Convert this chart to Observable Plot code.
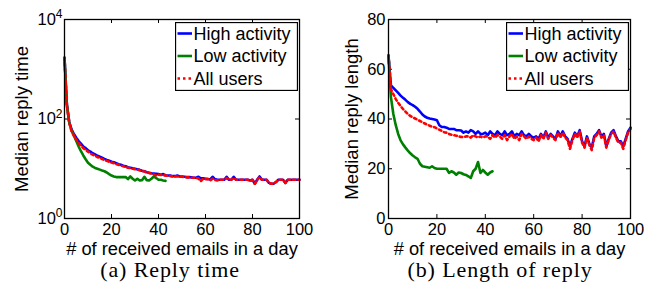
<!DOCTYPE html>
<html>
<head>
<meta charset="utf-8">
<script src="https://cdn.jsdelivr.net/npm/d3@7"></script>
<script src="https://cdn.jsdelivr.net/npm/@observablehq/plot@0.6"></script>
<style>
  body { margin: 0; background: white; }
  #fig { position: relative; width: 662px; height: 284px; background: white; font-family: "Liberation Sans", Arial, sans-serif; }
  .panel { position: absolute; top: 0; }
  .caption { position: absolute; font-family: "Liberation Serif", "Times New Roman", serif; font-size: 22px; letter-spacing: 0.9px; line-height: 19px; height: 19px; white-space: nowrap; transform: translateX(-50%); }
  .legend { position: absolute; }
</style>
</head>
<body>
<div id="fig"></div>
<script>
// ---------- data ----------
const seriesNames = ["High activity", "Low activity", "All users"];
const seriesColors = ["#0000ff", "#008000", "#ff0000"];

const xLabel = "# of received emails in a day";
const xTicks = [0, 20, 40, 60, 80, 100];

// (a) median reply time (log scale), x = 0..100 / 0..43
const timeTicks = [1, 100, 10000];
const timeHigh = [1700, 200, 88, 62, 50, 42, 36, 32, 28, 26, 23.5, 22, 20.5, 19.5, 18.2, 17.4, 16.6, 15.8, 15.1, 14.5,
  13.8, 13.5, 12.9, 12.3, 12, 11.5, 11.2, 10.7, 10.5, 10.2, 10, 9.8, 9.5, 9.1, 8.9, 8.5, 8.3, 8.1, 8.0, 7.9,
  7.8, 7.6, 7.8, 7.4, 7.3, 7.3, 7.1, 7.1, 7.3, 7.0, 7.0, 6.9, 6.8, 6.8, 6.7, 6.6, 6.6, 6.9, 6.4, 6.4,
  6.3, 6.2, 6.1, 6.9, 6.2, 6.0, 6.0, 6.0, 6.0, 6.9, 6.0, 6.0, 6.9, 6.0, 6.0, 6.0, 6.0, 6.0, 6.0, 5.8,
  6.0, 5.0, 6.0, 7.0, 6.0, 6.0, 6.0, 5.2, 5.0, 5.0, 5.4, 6.0, 6.0, 6.0, 5.2, 6.0, 6.0, 6.0, 6.0, 6.0, 6.0];
const timeLow = [1700, 195, 86, 58, 46, 36, 28, 22.5, 18.5, 15.5, 13.2, 12, 11, 10.4, 10, 9.6, 9.2, 8.9, 8.4, 7.8,
  7.3, 7.0, 6.8, 6.8, 6.8, 6.8, 6.8, 6.2, 7.0, 6.3, 5.8, 6.3, 5.8, 5.9, 6.9, 5.9, 5.8, 6.3, 7.0, 6.5,
  6.0, 6.0, 5.8, 5.7];
const timeAll = [1700, 190, 84, 57, 46, 38, 33, 29, 26, 24, 22, 20.5, 19.2, 18.2, 17.2, 16.4, 15.7, 15.0, 14.4, 13.8,
  13.3, 12.9, 12.4, 12, 11.6, 11.2, 10.9, 10.5, 10.3, 10, 9.8, 9.6, 9.3, 9.0, 8.8, 8.5, 8.2, 8.0, 7.7, 7.3,
  7.6, 7.5, 7.4, 7.3, 7.2, 7.1, 7.0, 7.0, 7.0, 6.9, 6.9, 6.8, 6.7, 6.7, 6.6, 6.6, 6.5, 6.4, 5.6, 6.3,
  6.2, 6.2, 5.8, 6.3, 6.0, 5.8, 6.0, 6.0, 6.0, 6.5, 6.0, 6.0, 6.5, 6.0, 6.0, 6.0, 6.0, 6.0, 6.0, 5.8,
  6.0, 5.0, 6.0, 6.8, 6.0, 6.0, 6.0, 5.2, 5.0, 5.0, 5.4, 6.0, 6.0, 6.0, 5.2, 6.0, 6.0, 6.0, 6.0, 6.0, 6.0];

// (b) median reply length (linear)
const lenTicks = [0, 20, 40, 60, 80];
const lenHigh = [65.5, 53.5, 52.5, 51.5, 50.5, 49.4, 48.5, 47.7, 46.8, 46.1, 45.6, 44.9, 44.1, 43, 41.8, 41, 40.5, 40.2, 40, 39.8,
  39.5, 37.5, 36.8, 36.8, 36.5, 36, 36, 36, 35.5, 35.5, 35.4, 34.5, 35, 34.5, 35.5, 35, 34, 35, 34, 34,
  34.5, 33.5, 35, 34, 33.5, 35, 34, 33.5, 35, 33.5, 34, 35, 33, 34, 33.5, 35, 33.5, 33, 34, 33,
  32.5, 33, 32, 34, 32.5, 35, 32.5, 34, 33, 32, 35, 33, 35, 33, 32, 29, 32, 34.5, 33, 35.5,
  31, 29, 33, 30, 28.5, 33, 34, 35.5, 33, 34, 29, 32, 34.5, 35.5, 33, 31, 31, 29, 32, 35, 36.5];
const lenLow = [65.5, 48.8, 42, 37.5, 34, 31.4, 29.8, 28.5, 27.3, 26.2, 25.3, 24.6, 24, 22, 21, 20.8, 20.6, 20.4, 21, 20.3,
  20, 20, 20, 20, 20, 18.3, 19, 18.5, 17.6, 18.5, 18.3, 17.8, 17.5, 16.9, 16.3, 19, 20, 22.7, 18.3, 19.5,
  18.5, 17.6, 18.5, 19];
const lenAll = [65.5, 52, 50, 48, 46.5, 45.2, 44, 43, 42, 41.2, 40.7, 40.2, 39.7, 39.2, 38.7, 38.2, 37.7, 37.3, 36.9, 36.7,
  36.2, 35.7, 35.2, 34.7, 34.5, 34, 33.7, 33.5, 33.3, 33, 32.8, 32.7, 33, 33, 32.5, 33.5, 33, 32.5, 33, 32.5,
  33, 33, 32, 33.5, 32.5, 33.5, 33, 32, 33.5, 31.5, 33, 34, 32, 33, 31.5, 34, 33, 32, 33, 32,
  31.5, 32.5, 31, 33.5, 32, 34.5, 32, 33.5, 32.5, 31.5, 34.5, 32.5, 34.5, 32.5, 31.5, 28, 31.5, 34, 32.5, 35,
  30.5, 28.5, 32.5, 29.5, 27.5, 32.5, 33.5, 35, 32.5, 33.5, 28.5, 31.5, 34, 35, 32.5, 30.5, 30.5, 28, 31.5, 34.5, 36];

const panels = [
  {key: "a", yLabel: "Median reply time", caption: "(a) Reply time", series: [timeHigh, timeLow, timeAll],
   yType: "log", yDomain: [1, 10000], yTicks: timeTicks},
  {key: "b", yLabel: "Median reply length", caption: "(b) Length of reply", series: [lenHigh, lenLow, lenAll],
   yType: "linear", yDomain: [0, 80], yTicks: lenTicks}
];

// ---------- layout ----------
const layout = {
  a: {left: 0, mL: 64, mR: 32, yLabDx: -42, capX: 170, legX: 175},
  b: {left: 331, mL: 57, mR: 32, yLabDx: -36, capX: 500, legX: 506}
};
const W = 331, H = 262, mT = 19, mB = 44;
const innerH = H - mT - mB;
const tickLen = 4;

const fig = document.getElementById("fig");

function toRows(vals) { return vals.map((v, i) => ({x: i, y: v})); }

for (const p of panels) {
  const L = layout[p.key];
  const innerW = W - L.mL - L.mR;
  const lineStyles = [
    {stroke: seriesColors[0], strokeWidth: 2.6},
    {stroke: seriesColors[1], strokeWidth: 2.6},
    {stroke: seriesColors[2], strokeWidth: 2.6, strokeDasharray: "2.5,3"}
  ];
  const plot = Plot.plot({
    width: W, height: H,
    marginLeft: L.mL, marginRight: L.mR, marginTop: mT, marginBottom: mB,
    style: {fontFamily: "'Liberation Sans', Arial, sans-serif", fontSize: "16.5px", background: "white", color: "black"},
    x: {domain: [0, 100]},
    y: {type: p.yType, domain: p.yDomain},
    marks: [
      Plot.axisX({ticks: xTicks, anchor: "bottom", tickSize: 0, tickPadding: 5, label: null, fontSize: 16.5}),
      Plot.axisY({ticks: p.yTicks, anchor: "left", tickSize: 0, tickPadding: p.yType === "log" ? 2 : 3, label: null, fontSize: 16.5,
        tickFormat: p.yType === "log" ? (d => "10^" + Math.round(Math.log10(d))) : (d => String(d))}),
      Plot.ruleX(xTicks, {x: d => d, insetTop: innerH - tickLen, stroke: "black"}),
      Plot.ruleX(xTicks, {x: d => d, insetBottom: innerH - tickLen, stroke: "black"}),
      Plot.ruleY(p.yTicks, {y: d => d, insetRight: innerW - tickLen, stroke: "black"}),
      Plot.ruleY(p.yTicks, {y: d => d, insetLeft: innerW - tickLen, stroke: "black"}),
      ...p.series.map((vals, i) => Plot.line(toRows(vals), {x: "x", y: "y", ...lineStyles[i]})),
      Plot.frame({stroke: "black", strokeWidth: 1.3}),
      Plot.text([xLabel], {frameAnchor: "bottom", textAnchor: "middle", lineAnchor: "middle", dy: 31, fontSize: 18.3}),
      Plot.text([p.yLabel], {frameAnchor: "left", textAnchor: "middle", lineAnchor: "middle", rotate: -90, dx: L.yLabDx, fontSize: 18.5})
    ]
  });
  // superscripts for log tick labels
  if (p.yType === "log") {
    d3.select(plot).selectAll('g[aria-label="y-axis tick label"] text').each(function () {
      const t = this.textContent;
      const [base, exp] = t.split("^");
      if (exp !== undefined) {
        this.textContent = base;
        d3.select(this).append("tspan").attr("dy", "-0.55em").attr("font-size", "12px").text(exp);
      }
    });
  }
  const div = document.createElement("div");
  div.className = "panel";
  div.style.left = L.left + "px";
  div.appendChild(plot);
  fig.appendChild(div);

  // caption
  const cap = document.createElement("div");
  cap.className = "caption";
  cap.style.left = L.capX + "px";
  cap.style.top = "260px";
  cap.textContent = p.caption;
  fig.appendChild(cap);

  // legend
  const lw = 123, lh = 69;
  const leg = d3.create("svg").attr("class", "legend").attr("width", lw).attr("height", lh)
    .style("left", L.legX + "px").style("top", "22px");
  leg.append("rect").attr("x", 0.5).attr("y", 0.5).attr("width", lw - 1).attr("height", lh - 1)
    .attr("fill", "white").attr("stroke", "black").attr("stroke-width", 1.3);
  seriesNames.forEach((name, i) => {
    const cy = 11.5 + i * 22.5;
    const st = lineStyles[i];
    leg.append("line").attr("x1", 2.5).attr("x2", 17).attr("y1", cy).attr("y2", cy)
      .attr("stroke", st.stroke).attr("stroke-width", st.strokeWidth)
      .attr("stroke-dasharray", st.strokeDasharray || null);
    leg.append("text").attr("x", 18.5).attr("y", cy).attr("dy", "0.35em")
      .attr("font-family", "'Liberation Sans', Arial, sans-serif").attr("font-size", 18).text(name);
  });
  fig.appendChild(leg.node());
}
</script>
</body>
</html>
